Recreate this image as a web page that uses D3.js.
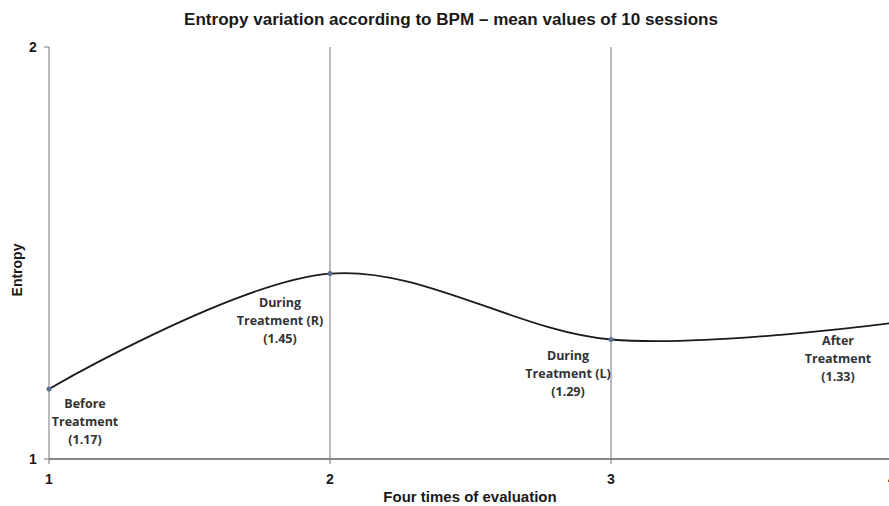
<!DOCTYPE html>
<html>
<head>
<meta charset="utf-8">
<script src="https://cdn.jsdelivr.net/npm/d3@7"></script>
<style>
	body { margin: 0; background: #fff; }
	svg { display: block; }
	text { font-family: 'Liberation Sans', Arial, sans-serif; fill: #1a1a1a; }
	.lbl { font-family: 'Open Sans', 'Noto Sans', sans-serif; font-weight: bold; font-size: 12.5px; fill: #333; }
</style>
</head>
<body>
<div id="chart"></div>
<script>
// data
var times = [1, 2, 3, 4]
var entropy = [1.17, 1.45, 1.29, 1.33]
var labelNames = [['Before', 'Treatment'], ['During', 'Treatment (R)'], ['During', 'Treatment (L)'], ['After', 'Treatment']]
var xTicks = [1, 2, 3, 4]
var yTicks = [1, 2]

var width = 889
var height = 506
var margin = { top: 47, right: -3, bottom: 47, left: 49 }

var svg = d3.select('#chart').append('svg')
	.attr('width', width)
	.attr('height', height)

var x = d3.scaleLinear()
	.domain([1, 4])
	.range([margin.left, width - margin.right])

var y = d3.scaleLinear()
	.domain([1, 2])
	.range([height - margin.bottom, margin.top])

// title
svg.append('text')
	.attr('x', 451)
	.attr('y', 25)
	.attr('text-anchor', 'middle')
	.style('font-size', '16px')
	.style('font-weight', 'bold')
	.attr('textLength', 534)
	.attr('lengthAdjust', 'spacingAndGlyphs')
	.text('Entropy variation according to BPM \u2013 mean values of 10 sessions')

// vertical grid lines at each time
svg.selectAll('.vline')
	.data(xTicks.slice(1))
	.enter()
	.append('line')
	.attr('class', 'vline')
	.attr('x1', d => x(d))
	.attr('x2', d => x(d))
	.attr('y1', y(2))
	.attr('y2', y(1))
	.attr('stroke', '#777')
	.attr('stroke-width', 1)

// left axis
svg.append('line')
	.attr('x1', x(1)).attr('x2', x(1))
	.attr('y1', y(2)).attr('y2', y(1))
	.attr('stroke', '#777')

svg.selectAll('.ytick')
	.data(yTicks)
	.enter()
	.append('line')
	.attr('x1', x(1) - 5).attr('x2', x(1))
	.attr('y1', d => y(d)).attr('y2', d => y(d))
	.attr('stroke', '#777')

svg.selectAll('.ylab')
	.data(yTicks)
	.enter()
	.append('text')
	.attr('x', x(1) - 16)
	.attr('y', d => y(d) + 5)
	.attr('text-anchor', 'middle')
	.style('font-size', '14px')
	.style('font-weight', 'bold')
	.text(d => d)

// bottom axis
svg.append('line')
	.attr('x1', x(1)).attr('x2', width)
	.attr('y1', y(1)).attr('y2', y(1))
	.attr('stroke', '#888')
	.attr('stroke-width', 2)

svg.selectAll('.xtick')
	.data(xTicks)
	.enter()
	.append('line')
	.attr('x1', d => x(d)).attr('x2', d => x(d))
	.attr('y1', y(1)).attr('y2', y(1) + 5)
	.attr('stroke', '#777')

svg.selectAll('.xlab')
	.data(xTicks)
	.enter()
	.append('text')
	.attr('x', d => x(d))
	.attr('y', y(1) + 25)
	.attr('text-anchor', 'middle')
	.style('font-size', '14px')
	.style('font-weight', 'bold')
	.text(d => d)

// axis titles
svg.append('text')
	.attr('x', 470)
	.attr('y', 502)
	.attr('text-anchor', 'middle')
	.style('font-size', '15px')
	.style('font-weight', 'bold')
	.text('Four times of evaluation')

svg.append('text')
	.attr('transform', 'translate(22,' + 270 + ') rotate(-90)')
	.attr('text-anchor', 'middle')
	.style('font-size', '14px')
	.style('font-weight', 'bold')
	.text('Entropy')

// smooth line
var pts = times.map((t, i) => [t, entropy[i]])
var line = d3.line()
	.x(d => x(d[0]))
	.y(d => y(d[1]))
	.curve(d3.curveCatmullRom.alpha(0.5))

svg.append('path')
	.datum(pts)
	.attr('d', line)
	.attr('fill', 'none')
	.attr('stroke', '#1a1a1a')
	.attr('stroke-width', 1.8)

svg.selectAll('.pt')
	.data(pts)
	.enter()
	.append('circle')
	.attr('cx', d => x(d[0]))
	.attr('cy', d => y(d[1]))
	.attr('r', 2.5)
	.attr('fill', '#5a7090')

// point labels
var offsets = [[36, 19], [-50, 33], [-43, 20], [-54, 22]]
var lab = svg.selectAll('.lbl')
	.data(pts)
	.enter()
	.append('text')
	.attr('class', 'lbl')
	.attr('text-anchor', 'middle')
	.attr('transform', (d, i) => 'translate(' + (x(d[0]) + offsets[i][0]) + ',' + (y(d[1]) + offsets[i][1]) + ')')

lab.each(function(d, i) {
	var el = d3.select(this)
	var lines = labelNames[i].concat(['(' + d[1].toFixed(2) + ')'])
	lines.forEach((s, j) => {
		el.append('tspan').attr('x', 0).attr('dy', j === 0 ? 0 : 18).text(s)
	})
})
</script>
</body>
</html>
